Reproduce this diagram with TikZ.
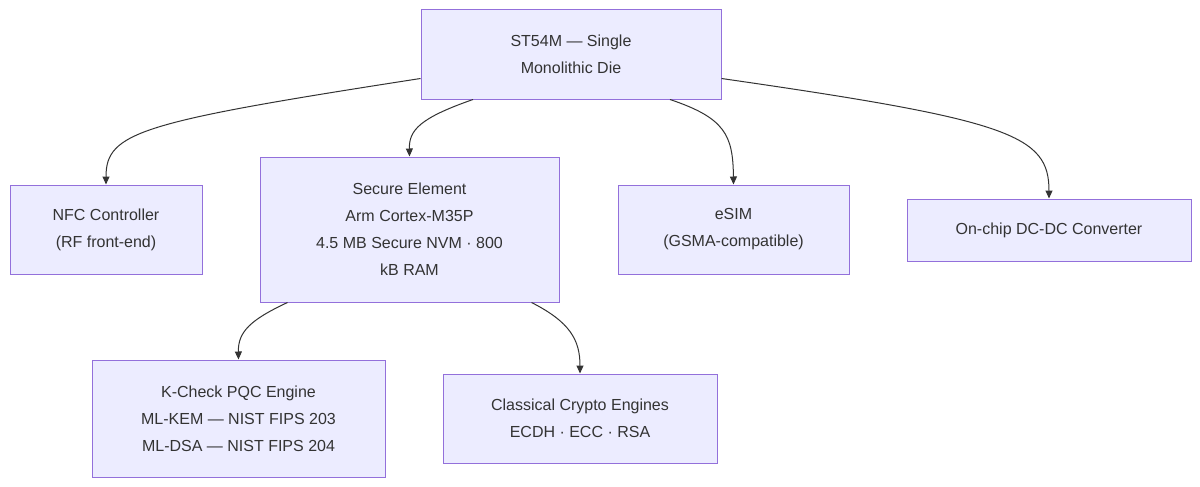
\documentclass[tikz,border=0pt]{standalone}
\usepackage{fontspec}
\setmainfont{Liberation Sans}
\usetikzlibrary{arrows.meta,calc}
\definecolor{nodefill}{HTML}{ECECFF}
\definecolor{nodeedge}{HTML}{9370DB}
\definecolor{txt}{HTML}{333333}
\begin{document}
\begin{tikzpicture}[x=1pt,y=-1pt,
  box/.style={draw=nodeedge,fill=nodefill,line width=1pt,text=txt,align=center,inner sep=0pt,font=\fontsize{16}{27}\selectfont},
  conn/.style={draw=txt,line width=1pt,-{Triangle[length=8pt,width=7pt]}}]
\useasboundingbox (0,0) rectangle (1200,487);
\fill[white] (0,0) rectangle (1200,487);
\node[box,minimum width=300pt,minimum height=89pt] (top) at (571,54.5) {ST54M — Single\\Monolithic Die};
\node[box,minimum width=192pt,minimum height=89pt] (nfc) at (106,229.5) {NFC Controller\\(RF front-end)};
\node[box,minimum width=299pt,minimum height=145pt] (se) at (409.5,229.5) {Secure Element\\Arm Cortex-M35P\\4.5 MB Secure NVM · 800\\kB RAM};
\node[box,minimum width=231pt,minimum height=89pt] (esim) at (733.5,229.5) {eSIM\\(GSMA-compatible)};
\node[box,minimum width=284pt,minimum height=62pt] (dc) at (1049,230) {On-chip DC-DC Converter};
\node[box,minimum width=293pt,minimum height=117pt] (kc) at (238.5,418.5) {K-Check PQC Engine\\ML-KEM — NIST FIPS 203\\ML-DSA — NIST FIPS 204};
\node[box,minimum width=274pt,minimum height=89pt] (cl) at (580,418.5) {Classical Crypto Engines\\ECDH · ECC · RSA};
\draw[conn] ($(top.west)+(0,24)$) .. controls (140,122) and (106,132) .. (nfc.north);
\draw[conn] ($(top.south)+(-98,0)$) .. controls (420,118) and (409,130) .. (se.north);
\draw[conn] ($(top.south)+(99,0)$) .. controls (725,118) and (733,135) .. (esim.north);
\draw[conn] ($(top.east)+(0,24)$) .. controls (1010,120) and (1049,135) .. (dc.north);
\draw[conn] ($(se.south)+(-122,0)$) .. controls (250,320) and (238,332) .. (kc.north);
\draw[conn] ($(se.south)+(122,0)$) .. controls (570,322) and (580,340) .. (cl.north);
\end{tikzpicture}
\end{document}
